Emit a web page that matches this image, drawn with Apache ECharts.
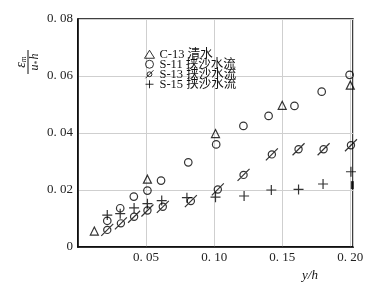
<!DOCTYPE html>
<html>
<head>
<meta charset="utf-8">
<script src="https://cdn.jsdelivr.net/npm/echarts@6/dist/echarts.min.js"></script>
<style>html,body{margin:0;padding:0;background:#fff;}#c{width:371px;height:285px;}</style>
</head>
<body>
<div id="c"></div>
<script>
// ---- data ----
var seriesNames = ['C-13 清水', 'S-11 挟沙水流', 'S-13 挟沙水流', 'S-15 挟沙水流'];
var xC13 = [0.012, 0.051, 0.101, 0.150, 0.200];
var yC13 = [0.0056, 0.0238, 0.0398, 0.0497, 0.0568];
var xS11 = [0.0215, 0.031, 0.041, 0.051, 0.061, 0.081, 0.1015, 0.1215, 0.140, 0.159, 0.179, 0.1995];
var yS11 = [0.0092, 0.0136, 0.0177, 0.0198, 0.0233, 0.0297, 0.0360, 0.0425, 0.0460, 0.0495, 0.0545, 0.0604];
var xS13 = [0.0215, 0.0315, 0.0412, 0.051, 0.0623, 0.0829, 0.1027, 0.1216, 0.1424, 0.162, 0.1804, 0.2005];
var yS13 = [0.0060, 0.0083, 0.0106, 0.0128, 0.0141, 0.0161, 0.0202, 0.0253, 0.0325, 0.0343, 0.0343, 0.0357];
var xS15 = [0.0215, 0.031, 0.0412, 0.051, 0.0615, 0.080, 0.101, 0.122, 0.142, 0.162, 0.180, 0.2005];
var yS15 = [0.0112, 0.0117, 0.0137, 0.0152, 0.0163, 0.0173, 0.0175, 0.0179, 0.0200, 0.0202, 0.0221, 0.0264];
var xMark = [0.2015];
var yMark = [0.0217];
var xTicks = [0.05, 0.10, 0.15, 0.20];
var yTicks = [0, 0.02, 0.04, 0.06, 0.08];

function pairs(xs, ys) { return xs.map(function (x, i) { return [x, ys[i]]; }); }

var serif = '"Liberation Serif", "DejaVu Serif", "Noto Sans CJK SC", serif';
var slashedCircle = 'path://M0 12 L12 0 M9.6 6 A3.6 3.6 0 1 1 2.4 6 A3.6 3.6 0 1 1 9.6 6 Z';
var plusSym = 'path://M5 0 L5 10 M0 5 L10 5';
var hollow = { color: 'rgba(0,0,0,0)', borderColor: '#000', borderWidth: 1.2 };

function fmt(v) {
  if (Math.abs(v) < 1e-9) return '0';
  return v.toFixed(2).replace('.', '. ');
}

var chart = echarts.init(document.getElementById('c'), null, { renderer: 'canvas' });
chart.setOption({
  animation: false,
  backgroundColor: '#fff',
  grid: { left: 78, right: 18, top: 19, bottom: 38, show: true, borderColor: '#000', borderWidth: 1.5, backgroundColor: 'transparent' },
  xAxis: {
    type: 'value', min: 0, max: 0.202, interval: 0.05,
    axisLine: { show: true, lineStyle: { color: '#000', width: 1.5 } },
    axisTick: { show: false },
    splitLine: { show: true, lineStyle: { color: '#cfcfcf', width: 1 } },
    axisLabel: {
      margin: 4, color: '#222', fontFamily: serif, fontSize: 13,
      formatter: function (v) {
        for (var i = 0; i < xTicks.length; i++) if (Math.abs(v - xTicks[i]) < 1e-6) return fmt(v);
        return '';
      }
    }
  },
  yAxis: {
    type: 'value', min: 0, max: 0.08, interval: 0.02,
    axisLine: { show: true, lineStyle: { color: '#000', width: 1.5 } },
    axisTick: { show: false },
    splitLine: { show: true, lineStyle: { color: '#cfcfcf', width: 1 } },
    axisLabel: {
      margin: 5, color: '#222', fontFamily: serif, fontSize: 13,
      formatter: function (v) {
        for (var i = 0; i < yTicks.length; i++) if (Math.abs(v - yTicks[i]) < 1e-6) return fmt(v);
        return '';
      }
    }
  },
  legend: {
    orient: 'vertical', left: 139, top: 43,
    itemWidth: 10, itemHeight: 8, itemGap: -2.5,
    itemStyle: { color: 'rgba(0,0,0,0)', borderColor: '#000', borderWidth: 1 },
    textStyle: { fontFamily: serif, fontSize: 12.5, color: '#111' },
    data: seriesNames
  },
  series: [
    { name: seriesNames[0], type: 'scatter', symbol: 'triangle', symbolSize: 8, itemStyle: hollow, data: pairs(xC13, yC13), z: 3 },
    { name: seriesNames[1], type: 'scatter', symbol: 'circle', symbolSize: 7.5, itemStyle: hollow, data: pairs(xS11, yS11), z: 3 },
    { name: seriesNames[2], type: 'scatter', symbol: slashedCircle, symbolSize: 12, itemStyle: hollow, data: pairs(xS13, yS13), z: 3 },
    { name: seriesNames[3], type: 'scatter', symbol: plusSym, symbolSize: 10, itemStyle: hollow, data: pairs(xS15, yS15), z: 3 },
    { name: 'mark', type: 'scatter', symbol: 'rect', symbolSize: [3, 8], itemStyle: { color: '#000' }, data: pairs(xMark, yMark), z: 4 }
  ],
  graphic: [
    {
      type: 'group', x: 28, y: 62, rotation: Math.PI / 2,
      children: [
        { type: 'text', x: 0, y: -7, style: { text: '{e|ε}{s|m}', align: 'center', verticalAlign: 'middle',
          rich: { e: { fontFamily: serif, fontSize: 14, fontStyle: 'italic', fill: '#111' }, s: { fontFamily: serif, fontSize: 8, fontStyle: 'italic', fill: '#111', padding: [6, 0, 0, 0] } } } },
        { type: 'line', shape: { x1: -12, y1: 0, x2: 12, y2: 0 }, style: { stroke: '#111', lineWidth: 1 } },
        { type: 'text', x: 0, y: 7, style: { text: '{u|u}{s|*}{u|h}', align: 'center', verticalAlign: 'middle',
          rich: { u: { fontFamily: serif, fontSize: 12, fontStyle: 'italic', fill: '#111' }, s: { fontFamily: serif, fontSize: 8, fill: '#111', padding: [6, 1, 0, 0] } } } }
      ]
    },
    { type: 'text', x: 310, y: 276, style: { text: 'y/h', fontFamily: serif, fontSize: 13, fontStyle: 'italic', fill: '#111', align: 'center', verticalAlign: 'middle' } }
  ]
});
</script>
</body>
</html>
